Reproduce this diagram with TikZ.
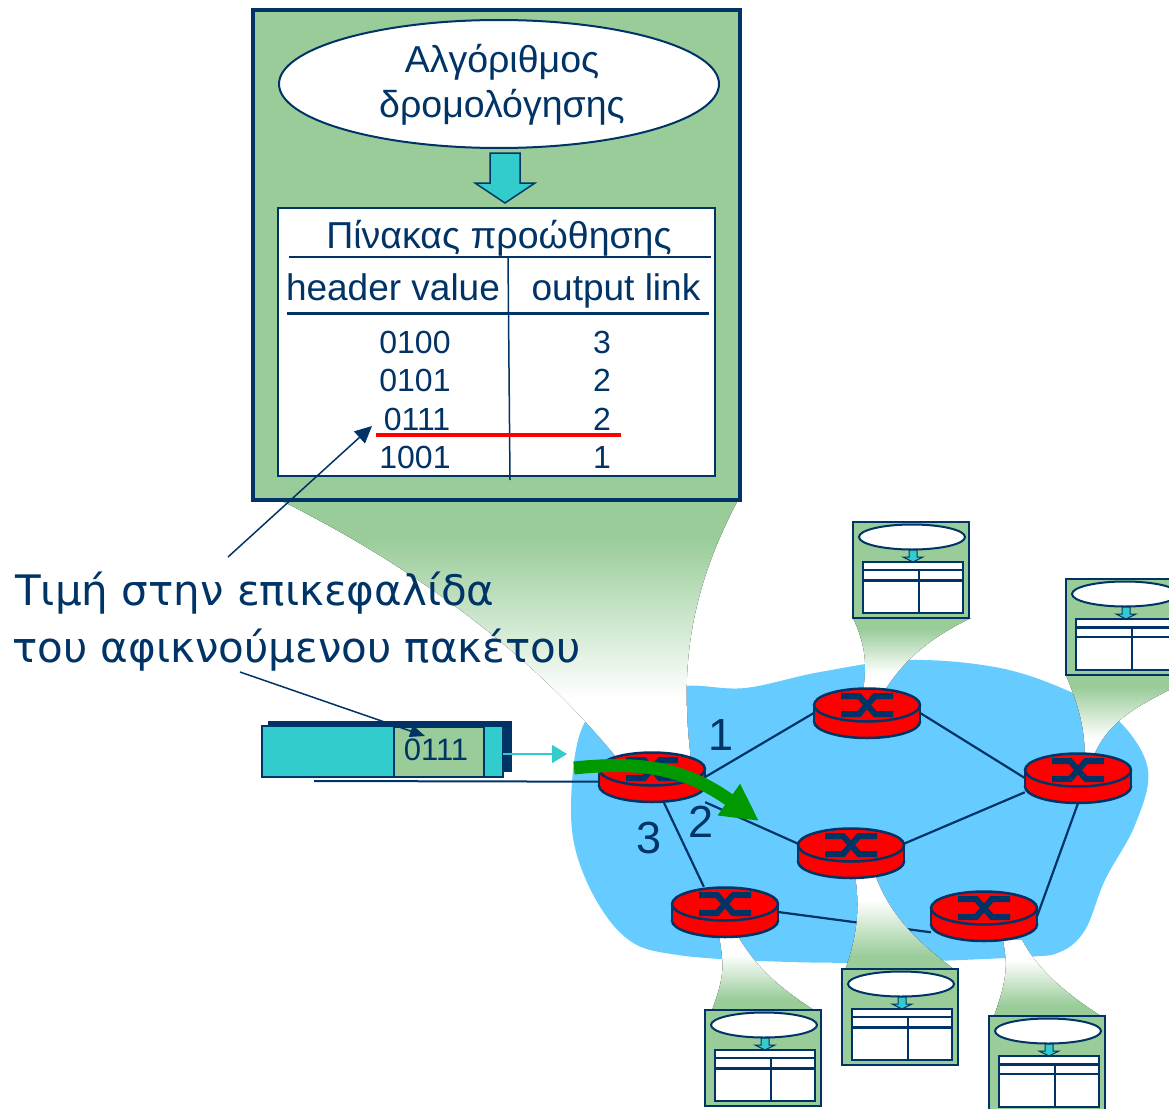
\documentclass[tikz,border=0pt]{standalone}
\usepackage{fontspec}
\setmainfont{Liberation Sans}
\newfontfamily\handfont{DejaVu Sans}
\usetikzlibrary{arrows.meta,shapes.geometric}
\definecolor{navy}{HTML}{003366}
\definecolor{boxgreen}{HTML}{99CC99}
\definecolor{tealfill}{HTML}{33CCCC}
\definecolor{cloudblue}{HTML}{66CCFF}
\definecolor{flowgreen}{HTML}{009900}
\pgfdeclareverticalshading{beamfade}{100bp}{color(0bp)=(white);color(38bp)=(white);color(68bp)=(boxgreen);color(100bp)=(boxgreen)}
\tikzset{
    linkline/.style={navy,line width=2.2pt},
    beam/.style={shading=beamfade,draw=none},
    beamup/.style={shading=beamfade,shading angle=180,draw=none},
    txt/.style={text=navy,inner sep=0pt,font=\fontsize{#1}{#1}\selectfont},
    hand/.style={text=navy,inner sep=0pt,anchor=west,font=\handfont\fontsize{42}{42}\selectfont},
    routerbox/.style={minimum width=106pt,minimum height=50pt,inner sep=0pt},
    routerpic/.pic={
        \fill[red,draw=navy,line width=2.5pt] (0,8.5) ellipse [x radius=53,y radius=16.5];
        \fill[red] (-53,-8) rectangle (53,8.5);
        \draw[navy,line width=2.5pt] (-53,-8) -- (-53,8.5) (53,-8) -- (53,8.5);
        \fill[red,draw=navy,line width=2.5pt] (0,-8) ellipse [x radius=53,y radius=16.5];
        \draw[navy,line width=6pt] (-26,-17) -- (-8,-17) -- (8,1) -- (26,1);
        \draw[navy,line width=6pt] (-26,1) -- (-8,1) -- (8,-17) -- (26,-17);
    }
}
\begin{document}
\begin{tikzpicture}[x=1pt,y=-1pt]
    \useasboundingbox (0,0) rectangle (1169,1108);
    % cloud
    \fill[cloudblue] plot [smooth cycle,tension=0.6] coordinates {
        (585,722) (640,700) (686,686) (745,688) (820,672) (907,660) (1000,668) (1073,693)
        (1120,722) (1148,770) (1135,825) (1105,880) (1085,930) (1060,952) (1023,957)
        (900,962) (790,962) (678,955) (625,937) (586,880) (571,813)};
    % routers
    \foreach \name/\x/\y in {r1/652/777,r2/867/713,r3/1078/778,r4/851/853,r5/725/912,r6/984/916}
        \node[routerbox] (\name) at (\x,\y) {};
    \draw[linkline] (r1.east) -- (r2.west);
    \draw[linkline] (r2.east) -- (r3.west);
    \draw[linkline] (r1.south east) -- (r4.170);
    \draw[linkline] (r1.-65) -- (r5.130);
    \draw[linkline] (r4.10) -- (r3.195);
    \draw[linkline] (r3.south) -- (r6.east);
    \draw[linkline] (r5.east) -- (r6.197);
    % beams
    \fill[beam] (280,500) .. controls (420,570) and (540,660) .. (625,768) -- (692,768) .. controls (680,680) and (685,600) .. (738,500) -- cycle;
    \fill[beam] (853,618) .. controls (868,650) and (866,670) .. (863,693) -- (883,693) .. controls (900,665) and (925,640) .. (971,618) -- cycle;
    \fill[beam] (1066,675) .. controls (1078,705) and (1085,725) .. (1085,760) -- (1092,760) .. controls (1105,725) and (1130,710) .. (1169,690) -- (1169,675) -- cycle;
    \fill[beamup] (845,970) .. controls (858,935) and (860,905) .. (855,875) -- (875,875) .. controls (890,915) and (915,940) .. (955,970) -- cycle;
    \fill[beamup] (712,1010) .. controls (725,975) and (724,965) .. (719,935) -- (737,935) .. controls (755,965) and (775,985) .. (814,1010) -- cycle;
    \fill[beamup] (994,1016) .. controls (1007,980) and (1008,965) .. (1003,940) -- (1022,940) .. controls (1035,965) and (1060,990) .. (1101,1016) -- cycle;
    \foreach \name in {r1,r2,r3,r4,r5,r6}
        \pic at (\name) {routerpic};
    % small boxes
    \foreach \x/\y/\wa/\wb in {853/522/2.2/3,1066/579/3/2.2,705/1010/2.2/3,842/969/2.2/3,989/1016/3/2.2}{
        \begin{scope}[shift={(\x,\y)}]
            \draw[navy,fill=boxgreen,line width=2.5pt] (0,0) rectangle (116,96);
            \draw[navy,fill=white,line width=2pt] (59,15) ellipse [x radius=53,y radius=12.5];
            \draw[navy,fill=tealfill,line width=1pt] (56,28) -- (64,28) -- (64,35) -- (70,35) -- (60,40) -- (50,35) -- (56,35) -- cycle;
            \draw[navy,fill=white,line width=2.2pt] (10,40) rectangle (110,91);
            \draw[navy,line width=\wa pt] (10,48) -- (110,48);
            \draw[navy,line width=\wb pt] (10,58) -- (110,58);
            \draw[navy,line width=2.2pt] (66,48) -- (66,91);
        \end{scope}
    }
    % big box
    \draw[navy,fill=boxgreen,line width=4pt] (253,10) rectangle (740,500);
    \node[draw=navy,fill=white,ellipse,line width=2pt,minimum width=440pt,minimum height=128pt,inner sep=0pt] (algo) at (499,84) {};
    \node[txt=37.5,align=center] (algotext) at (502,85) {Αλγόριθμος\\[8pt]δρομολόγησης};
    \draw[navy,fill=tealfill,line width=1.5pt] (490,153) -- (520,153) -- (520,183) -- (535,183) -- (505,203) -- (475,183) -- (490,183) -- cycle;
    \node[draw=navy,fill=white,line width=2pt,minimum width=437pt,minimum height=268pt,inner sep=0pt] (table) at (496.5,342) {};
    \draw[navy,line width=2pt] (289,257) -- (711,257);
    \draw[navy,line width=3pt] (287,313) -- (709,313);
    \draw[navy,line width=1.5pt] (508,257) -- (510,480);
    \node[txt=37.5,anchor=base] (title) at (499,248) {Πίνακας προώθησης};
    \node[txt=37,anchor=base] (hdr) at (393,300) {header value};
    \node[txt=37,anchor=base] (out) at (616,300) {output link};
    \foreach \y/\a/\b/\i/\xa in {342/0100/3/1/415,380/0101/2/2/415,419/0111/2/3/417,457/1001/1/4/415}{
        \node[txt=32] (val\i) at (\xa,\y) {\a};
        \node[txt=32] (port\i) at (602,\y) {\b};
    }
    \coordinate (redl) at (376,435);
    \coordinate (redr) at (621,435);
    \draw[red,line width=4.5pt] (redl) -- (redr);
    % packet
    \draw[navy,fill=navy] (268,721) rectangle (511,771);
    \draw[navy,fill=tealfill,line width=1.5pt] (262,726) rectangle (503,777);
    \node[draw=navy,fill=boxgreen,line width=1.5pt,minimum width=90pt,minimum height=50pt,inner sep=0pt] (pkt) at (439,752) {};
    \node[txt=31] (pkttext) at (436,750) {0111};
    \coordinate (pktend) at (503,754);
    \coordinate (pktnext) at (567,754);
    \draw[tealfill,line width=1.8pt,-{Triangle[length=15pt,width=18pt]}] (pktend) -- (pktnext);
    \coordinate (wire) at (314,781);
    \draw[navy,line width=2pt] (wire) -- (r1.185);
    % labels
    \node[hand] (hand1) at (15,593) {Τιμή στην επικεφαλίδα};
    \node[hand] (hand2) at (12,650) {του αφικνούμενου πακέτου};
    \coordinate (ptr1) at (228,557);
    \coordinate (ptr2) at (240,672);
    \coordinate (tip1) at (372,426);
    \coordinate (tip2) at (425,736);
    \draw[navy,line width=1.5pt,-{Triangle[length=17pt,width=16pt]}] (ptr1) -- (tip1);
    \draw[navy,line width=1.5pt,-{Triangle[length=15pt,width=12pt]}] (ptr2) -- (tip2);
    \node[txt=45] (l1) at (721,735) {1};
    \node[txt=45] (l2) at (701,822) {2};
    \node[txt=45] (l3) at (649,838) {3};
    % forwarding path
    \coordinate (flowa) at (574,768);
    \coordinate (flowb) at (759,821);
    \draw[flowgreen,line width=13pt,-{Triangle[length=37pt,width=36pt]}] (flowa) .. controls (650,760) and (690,772) .. (flowb);
\end{tikzpicture}
\end{document}
